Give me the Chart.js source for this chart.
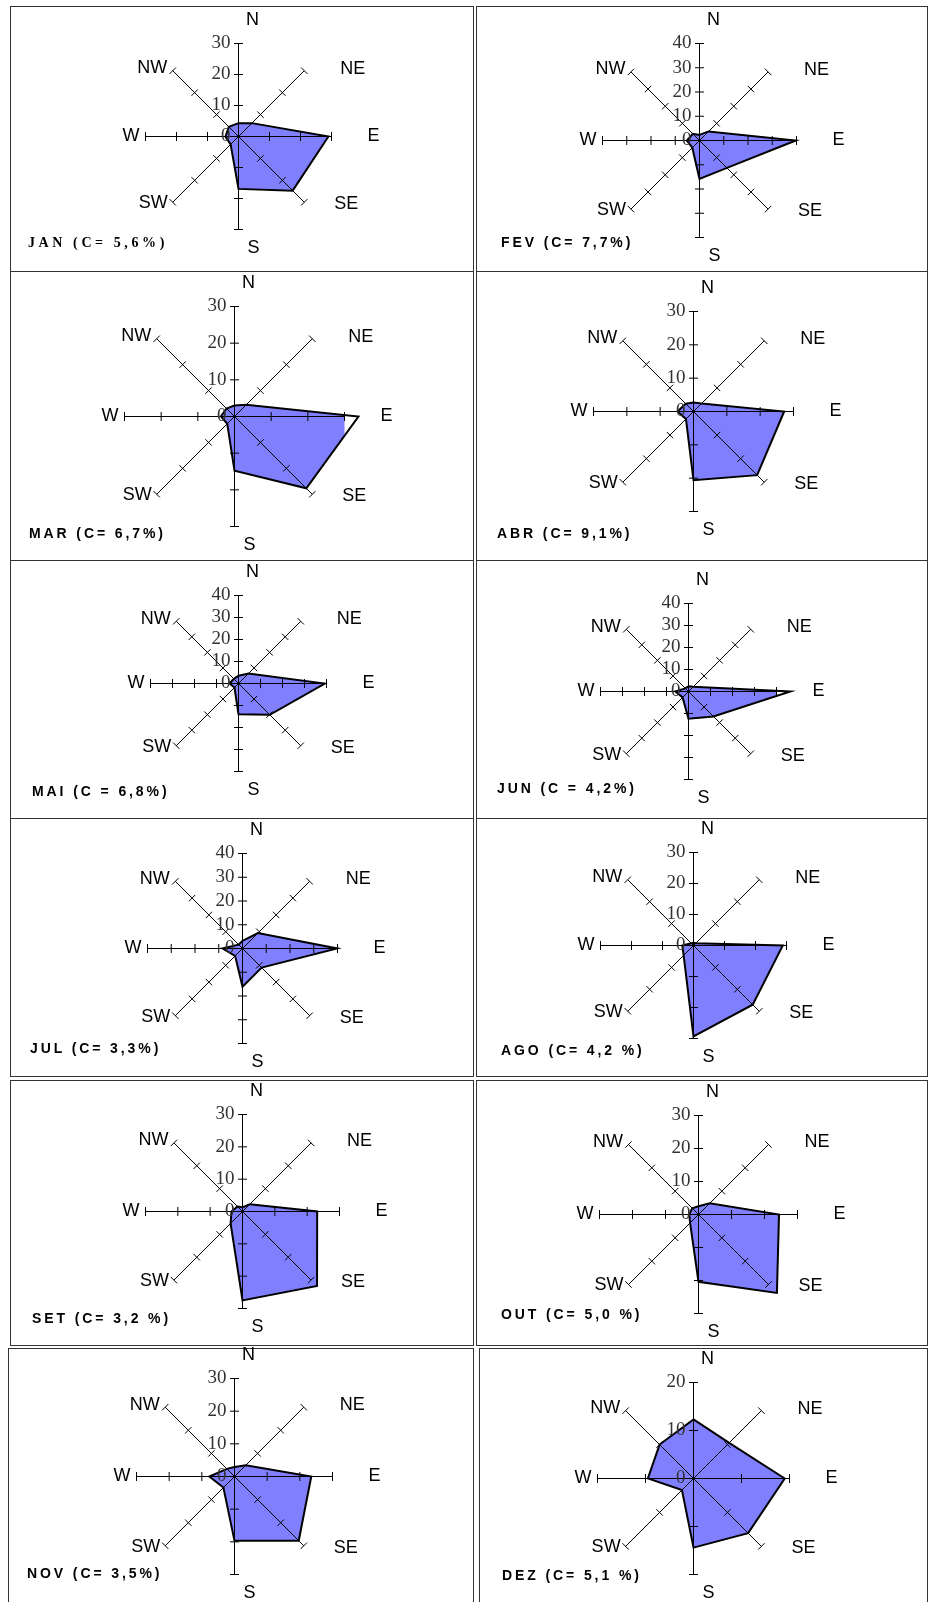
<!DOCTYPE html>
<html>
<head>
<meta charset="utf-8">
<script src="https://cdn.jsdelivr.net/npm/chart.js@4.4.1/dist/chart.umd.min.js"></script>
<style>
  html, body { margin: 0; padding: 0; background: #fff; }
  body { width: 928px; height: 1602px; position: relative; overflow: hidden; }
  .celula { position: absolute; border: 1px solid #333; box-sizing: border-box; }
  canvas { position: absolute; }
  .titulo {
    position: absolute; white-space: nowrap; transform: translateY(-50%);
    font-family: "Liberation Sans", Arial, sans-serif; font-weight: bold; font-size: 14px;
    letter-spacing: 2.9px; color: #000;
  }
  .titulo.serif { font-family: "Liberation Serif", "Times New Roman", serif; letter-spacing: 3.6px; }
</style>
</head>
<body>
<script>
// Direções do vento, no sentido horário a partir do norte
const direcoes = ['N', 'NE', 'E', 'SE', 'S', 'SW', 'W', 'NW'];

// Frequência (%) do vento em cada direção, de N até NW
const janeiro   = [4.3, 6.1, 29.0, 24.7, 16.9, 3.6, 4.2, 4.4];
const fevereiro = [2.3, 5.3, 39.7, 16.0, 15.8, 4.2, 5.2, 3.9];
const marco     = [3.0, 4.5, 33.8, 27.7, 14.8, 2.8, 3.7, 3.1];
const abril     = [2.7, 3.4, 27.2, 27.0, 20.6, 3.2, 4.8, 3.3];
const maio      = [3.5, 6.4, 39.2, 20.1, 14.0, 2.6, 4.1, 3.0];
const junho     = [2.4, 3.0, 46.3, 16.0, 12.4, 3.8, 6.0, 2.0];
const julho     = [3.2, 9.2, 39.9, 11.4, 16.1, 4.4, 8.4, 2.3];
const agosto    = [0.9, 1.0, 28.8, 27.0, 29.3, 4.5, 3.6, 1.0];
const setembro  = [1.3, 3.2, 23.1, 32.6, 27.5, 5.2, 3.4, 2.2];
const outubro   = [2.5, 4.8, 24.4, 33.6, 20.4, 3.6, 2.8, 2.7];
const novembro  = [2.9, 4.9, 23.5, 27.8, 19.7, 4.8, 7.7, 3.3];
const dezembro  = [12.3, 10.5, 19.0, 16.1, 14.4, 3.4, 9.5, 10.0];

const meses = [janeiro, fevereiro, marco, abril, maio, junho, julho, agosto, setembro, outubro, novembro, dezembro];

// Valor máximo do eixo de cada mês (marcas de 10 em 10)
const maximos = [30, 40, 30, 30, 40, 40, 40, 30, 30, 30, 30, 20];

// Títulos (C = calmaria)
const titulos = [
  'JAN (C= 5,6%)', 'FEV (C= 7,7%)',
  'MAR (C= 6,7%)', 'ABR (C= 9,1%)',
  'MAI (C = 6,8%)', 'JUN (C = 4,2%)',
  'JUL (C= 3,3%)', 'AGO (C= 4,2 %)',
  'SET (C= 3,2 %)', 'OUT (C= 5,0 %)',
  'NOV (C= 3,5%)', 'DEZ (C= 5,1 %)'
];

// ---- layout (posições em pixels da página) ----
// caixas das células: [esquerda, topo, largura, altura]
const celulas = [
  [10, 6, 464, 266], [476, 6, 452, 266],
  [10, 271, 464, 290], [476, 271, 452, 290],
  [10, 560, 464, 259], [476, 560, 452, 259],
  [10, 818, 464, 259], [476, 818, 452, 259],
  [10, 1080, 464, 266], [476, 1080, 452, 266],
  [8, 1348, 466, 262], [479, 1348, 449, 262]
];
// centro e raio de cada rosa: [cx, cy, r]
const centros = [
  [238, 136, 93], [699, 140, 97],
  [234, 416, 110], [693, 411, 100],
  [238, 683, 88], [688, 691, 88],
  [242, 948, 95], [693, 945, 93],
  [242, 1211, 97], [698, 1214, 99],
  [234, 1476, 98], [693, 1478, 96]
];
// posição dos títulos: [esquerda, centro vertical]
const posTitulos = [
  [28, 243], [501, 242],
  [29, 533], [497, 533],
  [32, 791], [497, 788],
  [30, 1048], [501, 1050],
  [32, 1318], [501, 1314],
  [27, 1573], [502, 1575]
];

// deslocamento de cada rótulo de direção em relação à ponta do eixo
const rotulos = [
  { dx: 14, dy: -23, align: 'center' },
  { dx: 36, dy: -2, align: 'left' },
  { dx: 36, dy: 0, align: 'left' },
  { dx: 30, dy: 2, align: 'left' },
  { dx: 15, dy: 19, align: 'center' },
  { dx: -5, dy: 1, align: 'right' },
  { dx: -6, dy: 0, align: 'right' },
  { dx: -5.5, dy: -2.5, align: 'right' }
];

const LARG = 460, ALT = 320;

// Plugin que desenha os eixos por cima da área, as marcas, os valores e as direções
const rosaPlugin = {
  id: 'rosa',
  beforeDraw(chart) {
    chart.ctx.save();
    chart.ctx.translate(0.5, 0.5); // linhas de 1px nítidas
  },
  afterDraw(chart) {
    const ctx = chart.ctx;
    const escala = chart.scales.r;
    const raio = escala.getDistanceFromCenterForValue(escala.max);

    ctx.strokeStyle = '#000';
    ctx.lineWidth = 1;

    // eixos (do centro até o valor máximo)
    direcoes.forEach((_, i) => {
      const p = escala.getPointPosition(i, raio);
      ctx.beginPath();
      ctx.moveTo(escala.xCenter, escala.yCenter);
      ctx.lineTo(p.x, p.y);
      ctx.stroke();
    });

    // marcas perpendiculares em cada eixo
    escala.ticks.forEach(t => {
      if (t.value === 0) return;
      const d = escala.getDistanceFromCenterForValue(t.value);
      direcoes.forEach((_, i) => {
        const p = escala.getPointPosition(i, d);
        const a = escala.getIndexAngle(i);
        const dx = Math.cos(a) * 4.5, dy = Math.sin(a) * 4.5;
        ctx.beginPath();
        ctx.moveTo(p.x - dx, p.y - dy);
        ctx.lineTo(p.x + dx, p.y + dy);
        ctx.stroke();
      });
    });

    // valores no eixo norte
    ctx.font = '19px "Liberation Serif", "Times New Roman", serif';
    ctx.fillStyle = '#333';
    ctx.textAlign = 'right';
    ctx.textBaseline = 'middle';
    escala.ticks.forEach(t => {
      const p = escala.getPointPosition(0, escala.getDistanceFromCenterForValue(t.value));
      ctx.fillText(String(t.value), p.x - 8, p.y);
    });

    // nomes das direções
    ctx.font = '18px "Liberation Sans", Arial, sans-serif';
    ctx.fillStyle = '#000';
    direcoes.forEach((nome, i) => {
      const p = escala.getPointPosition(i, escala.drawingArea);
      const o = rotulos[i];
      ctx.textAlign = o.align;
      ctx.fillText(nome, p.x + o.dx, p.y + o.dy);
    });

    ctx.restore();
  }
};

celulas.forEach(c => {
  const div = document.createElement('div');
  div.className = 'celula';
  div.style.left = c[0] + 'px';
  div.style.top = c[1] + 'px';
  div.style.width = c[2] + 'px';
  div.style.height = c[3] + 'px';
  document.body.appendChild(div);
});

meses.forEach((valores, k) => {
  const [cx, cy, r] = centros[k];
  const canvas = document.createElement('canvas');
  canvas.width = LARG;
  canvas.height = ALT;
  canvas.style.left = (cx - LARG / 2) + 'px';
  canvas.style.top = (cy - ALT / 2) + 'px';
  document.body.appendChild(canvas);

  new Chart(canvas, {
    type: 'radar',
    data: {
      labels: direcoes,
      datasets: [{
        data: valores,
        backgroundColor: '#8080ff',
        borderColor: '#000',
        borderWidth: 2,
        pointRadius: 0,
        fill: true,
        tension: 0,
        clip: false
      }]
    },
    options: {
      responsive: false,
      animation: false,
      layout: {
        padding: { left: LARG / 2 - r, right: LARG / 2 - r, top: ALT / 2 - r, bottom: ALT / 2 - r }
      },
      plugins: { legend: { display: false }, tooltip: { enabled: false } },
      scales: {
        r: {
          min: 0,
          max: maximos[k],
          ticks: { stepSize: 10, display: false },
          grid: { display: false },
          angleLines: { display: false },
          pointLabels: { display: false }
        }
      }
    },
    plugins: [rosaPlugin]
  });

  const t = document.createElement('div');
  t.className = 'titulo' + (k === 0 ? ' serif' : '');
  t.textContent = titulos[k];
  t.style.left = posTitulos[k][0] + 'px';
  t.style.top = posTitulos[k][1] + 'px';
  document.body.appendChild(t);
});
</script>
</body>
</html>
